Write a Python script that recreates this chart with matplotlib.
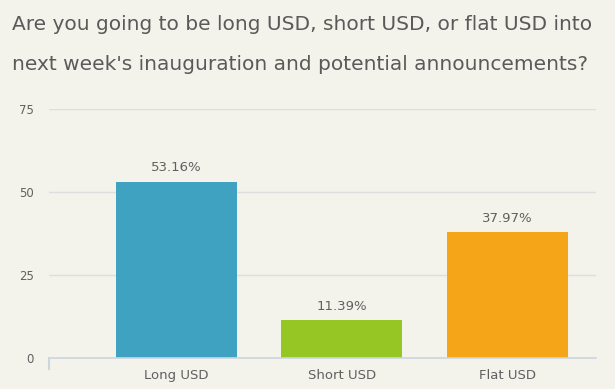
import matplotlib
matplotlib.use('Agg')
import matplotlib.pyplot as plt

## data
categories = ['Long USD', 'Short USD', 'Flat USD']
values = [53.16, 11.39, 37.97]
colors = ['#3fa2c1', '#95c623', '#f5a518']
yticks = [0, 25, 50, 75]

title_lines = ["Are you going to be long USD, short USD, or flat USD into",
               "next week's inauguration and potential announcements?"]

bg = '#f3f2eb'
txt = '#606060'

fig = plt.figure(figsize=(6.15, 3.89), dpi=100, facecolor=bg)
# axes in pixel coords: left 49, right 596, bottom y=358, top y=109
W, H = 615, 389
ax = fig.add_axes([49 / W, 1 - 358 / H, (596 - 49) / W, (358 - 109) / H])
ax.set_facecolor(bg)

x = list(range(len(categories)))
ax.bar(x, values, width=0.73, color=colors, zorder=3)
for xi, v in zip(x, values):
    ax.text(xi, v + 2.2, '%.2f%%' % v, ha='center', va='bottom',
            fontsize=9.5, color=txt)

ax.set_xlim(-0.768, 2.533)
ax.set_ylim(0, 75)
ax.set_yticks(yticks)
ax.set_yticklabels([str(t) for t in yticks], fontsize=8.5, color=txt)
ax.set_xticks(x)
ax.set_xticklabels(categories, fontsize=9.5, color=txt)
ax.tick_params(axis='y', length=0, pad=11)
ax.tick_params(axis='x', length=0, pad=8)
ax.grid(axis='y', color='#dedede', linewidth=1, zorder=0)

for s in ['top', 'right', 'left']:
    ax.spines[s].set_visible(False)
ax.spines['bottom'].set_color('#ccd6e0')
ax.spines['bottom'].set_linewidth(1.2)
ax.spines['bottom'].set_zorder(4)
# small tick at left end of the x axis
ax.plot([-0.768, -0.768], [0, -3.3], color='#ccd6e0', lw=1.5, clip_on=False)

# title, two lines placed separately
for i, line in enumerate(title_lines):
    fig.text(12 / W, 1 - (24 + 40 * i) / H, line, ha='left', va='center',
             fontsize=14.5, color='#5a5a5a')

fig.savefig('out.png', dpi=100, facecolor=bg)
